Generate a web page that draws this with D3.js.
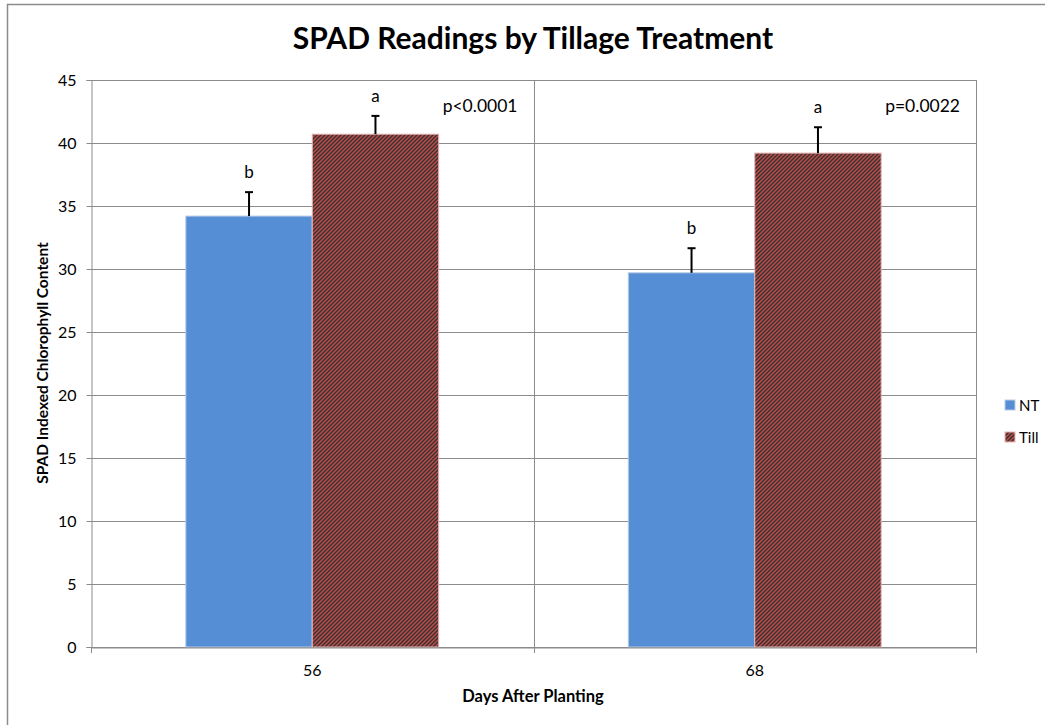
<!DOCTYPE html>
<html>
<head>
<meta charset="utf-8">
<script src="https://cdn.jsdelivr.net/npm/d3@7"></script>
<style>
  body { margin: 0; background: #fff; }
  text { font-family: Lato, "Open Sans", sans-serif; fill: #000; }
</style>
</head>
<body>
<div id="chart"></div>
<script>
// chart data
var days = ["56", "68"];
var series = ["NT", "Till"];
var ntValues = [34.2, 29.7];
var tillValues = [40.7, 39.2];
var ntErrors = [1.9, 1.95];
var tillErrors = [1.45, 2.05];
var ntLetters = ["b", "b"];
var tillLetters = ["a", "a"];
var pValues = ["p<0.0001", "p=0.0022"];
var yTicks = [0, 5, 10, 15, 20, 25, 30, 35, 40, 45];

var width = 1045, height = 725;
var margin = {top: 80, left: 91, right: 976, bottom: 647};

var svg = d3.select("#chart").append("svg")
	.attr("width", width)
	.attr("height", height);

// hatch for the Till bars
var defs = svg.append("defs");
var pat = defs.append("pattern")
	.attr("id", "hatch")
	.attr("patternUnits", "userSpaceOnUse")
	.attr("width", 4)
	.attr("height", 4);
pat.append("rect").attr("width", 4).attr("height", 4).attr("fill", "#c0504d");
pat.append("path")
	.attr("d", "M-1,1 l2,-2 M0,4 l4,-4 M3,5 l2,-2")
	.attr("stroke", "#3a3030")
	.attr("stroke-width", 1.5);

// outer chart border
svg.append("rect")
	.attr("x", 7.5).attr("y", 4.5)
	.attr("width", 1100).attr("height", 800)
	.attr("fill", "none")
	.attr("stroke", "#8c8c8c")
	.attr("stroke-width", 1.5);

var x = d3.scaleBand().domain(days).range([margin.left, margin.right]);
var inner = d3.scaleBand().domain(series).range([0, x.bandwidth()]).paddingOuter(0.75).paddingInner(0);
var y = d3.scaleLinear().domain([0, 45]).range([margin.bottom, margin.top]);

// horizontal gridlines
svg.append("g").selectAll("line").data(yTicks).enter().append("line")
	.attr("x1", margin.left).attr("x2", margin.right)
	.attr("y1", function(d){ return Math.round(y(d)) + 0.5; })
	.attr("y2", function(d){ return Math.round(y(d)) + 0.5; })
	.attr("stroke", "#8c8c8c");

// vertical gridlines between categories + right border
var vlines = [margin.left + x.bandwidth(), margin.right];
svg.append("g").selectAll("line").data(vlines).enter().append("line")
	.attr("x1", function(d){ return Math.round(d) + 0.5; })
	.attr("x2", function(d){ return Math.round(d) + 0.5; })
	.attr("y1", margin.top).attr("y2", margin.bottom)
	.attr("stroke", "#8c8c8c");

// bars
var rows = days.map(function(d, i){
	return [
		{day: d, s: "NT", v: ntValues[i], e: ntErrors[i], l: ntLetters[i]},
		{day: d, s: "Till", v: tillValues[i], e: tillErrors[i], l: tillLetters[i]}
	];
});
var flat = [].concat.apply([], rows);

svg.append("g").selectAll("rect").data(flat).enter().append("rect")
	.attr("x", function(d){ return x(d.day) + inner(d.s); })
	.attr("y", function(d){ return y(d.v); })
	.attr("width", inner.bandwidth())
	.attr("height", function(d){ return y(0) - y(d.v); })
	.attr("fill", function(d){ return d.s == "NT" ? "#558ed5" : "url(#hatch)"; })
	.attr("stroke", function(d){ return d.s == "NT" ? "#b9cde5" : "#e6b9b8"; })
	.attr("stroke-width", 1);

// error bars (upper only)
var err = svg.append("g").selectAll("g").data(flat).enter().append("g");
err.append("line")
	.attr("x1", function(d){ return x(d.day) + inner(d.s) + inner.bandwidth() / 2; })
	.attr("x2", function(d){ return x(d.day) + inner(d.s) + inner.bandwidth() / 2; })
	.attr("y1", function(d){ return y(d.v); })
	.attr("y2", function(d){ return y(d.v + d.e); })
	.attr("stroke", "#000").attr("stroke-width", 2);
err.append("line")
	.attr("x1", function(d){ return x(d.day) + inner(d.s) + inner.bandwidth() / 2 - 4; })
	.attr("x2", function(d){ return x(d.day) + inner(d.s) + inner.bandwidth() / 2 + 4; })
	.attr("y1", function(d){ return y(d.v + d.e); })
	.attr("y2", function(d){ return y(d.v + d.e); })
	.attr("stroke", "#000").attr("stroke-width", 2);

// significance letters
svg.append("g").selectAll("text").data(flat).enter().append("text")
	.attr("x", function(d){ return x(d.day) + inner(d.s) + inner.bandwidth() / 2; })
	.attr("y", function(d){ return y(d.v + d.e) - 14; })
	.attr("text-anchor", "middle")
	.attr("font-size", "17px")
	.text(function(d){ return d.l; });

// p values
svg.append("g").selectAll("text").data(pValues).enter().append("text")
	.attr("x", function(d, i){ return x(days[i]) + x.bandwidth() - 16; })
	.attr("y", 112)
	.attr("text-anchor", "end")
	.attr("font-size", "17.5px")
	.text(function(d){ return d; });

// y axis
var yAxis = svg.append("g")
	.attr("transform", "translate(" + (margin.left + 0.5) + ",0)")
	.call(d3.axisLeft(y).tickValues(yTicks).tickSize(5).tickPadding(10));
yAxis.selectAll("text").attr("font-size", "16px").style("font-family", "Lato, sans-serif");
yAxis.selectAll("line, path").attr("stroke", "#8c8c8c");

// x axis
var xAxis = svg.append("g")
	.attr("transform", "translate(0," + (margin.bottom + 0.5) + ")")
	.call(d3.axisBottom(x).tickSize(0).tickPadding(17));
xAxis.select("path").attr("stroke", "#8c8c8c");
xAxis.selectAll("text").attr("font-size", "16px").style("font-family", "Lato, sans-serif");
// tick marks on category boundaries
svg.append("g").selectAll("line").data([margin.left, margin.left + x.bandwidth(), margin.right]).enter().append("line")
	.attr("x1", function(d){ return Math.round(d) + 0.5; })
	.attr("x2", function(d){ return Math.round(d) + 0.5; })
	.attr("y1", margin.bottom).attr("y2", margin.bottom + 6)
	.attr("stroke", "#8c8c8c");

// titles
svg.append("text")
	.attr("x", 533).attr("y", 49)
	.attr("text-anchor", "middle")
	.attr("font-size", "30px").attr("font-weight", "bold")
	.text("SPAD Readings by Tillage Treatment");

svg.append("text")
	.attr("x", 533).attr("y", 702)
	.attr("text-anchor", "middle")
	.attr("font-size", "16.5px").attr("font-weight", "bold")
	.text("Days After Planting");

svg.append("text")
	.attr("transform", "translate(48,363)rotate(-90)")
	.attr("text-anchor", "middle")
	.attr("font-size", "15.5px").attr("font-weight", "bold")
	.text("SPAD Indexed Chlorophyll Content");

// legend
var legend = svg.append("g").selectAll("g").data(series).enter().append("g")
	.attr("transform", function(d, i){ return "translate(1005," + (400 + i * 32) + ")"; });
legend.append("rect")
	.attr("width", 10).attr("height", 10)
	.attr("fill", function(d){ return d == "NT" ? "#558ed5" : "url(#hatch)"; })
	.attr("stroke", function(d){ return d == "NT" ? "#b9cde5" : "#e6b9b8"; });
legend.append("text")
	.attr("x", 14).attr("y", 11)
	.attr("font-size", "15px")
	.text(function(d){ return d; });
</script>
</body>
</html>
